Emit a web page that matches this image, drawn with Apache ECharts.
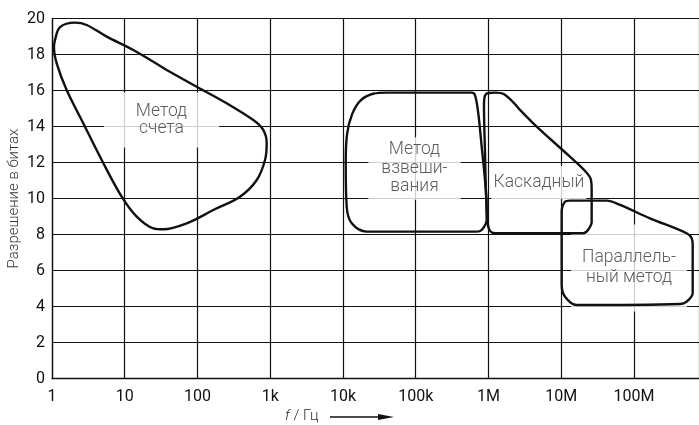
<!DOCTYPE html>
<html>
<head>
<meta charset="utf-8">
<script src="https://cdn.jsdelivr.net/npm/echarts@6/dist/echarts.min.js"></script>
<style>
html,body{margin:0;padding:0;background:#fff;}
#chart{width:699px;height:425px;}
</style>
</head>
<body>
<div id="chart"></div>
<script>
// ---- data ----
const xTickLabels = ['1', '10', '100', '1k', '10k', '100k', '1M', '10M', '100M'];
const yAxisName = 'Разрешение в битах';
const xAxisName = 'f / Гц';

// contours: [frequency in Hz, resolution in bits]
const countingMethod = [
  [37.7, 17.14], [13.1, 18.25], [5.65, 18.99], [3.0, 19.64], [2.07, 19.77], [1.29, 19.52],
  [1.10, 18.81], [1.065, 18.4], [1.16, 17.51], [1.59, 16.03], [2.69, 14.18], [4.82, 12.14],
  [9.08, 10.1], [14.6, 8.99], [24.7, 8.34], [33.9, 8.29], [71.1, 8.62], [165, 9.36],
  [384, 10.1], [652, 11.03], [848, 12.14], [894, 13.07], [802, 13.81], [585, 14.36],
  [252, 15.29], [97.5, 16.21], [37.7, 17.14]
];
const weighingMethod = [
  [150000, 15.88], [587000, 15.88], [651000, 15.75], [724000, 14.73], [806000, 12.88],
  [895000, 11.03], [944000, 9.54], [944000, 8.81], [806000, 8.25], [688000, 8.16],
  [21200, 8.16], [13200, 8.62], [11250, 9.54], [10900, 12.0], [11400, 13.6],
  [13400, 14.7], [17500, 15.45], [26000, 15.82], [40000, 15.88], [150000, 15.88]
];
const cascadeMethod = [
  [2.71e6, 14.92], [4.595e6, 13.99], [1.318e7, 12.32], [2.188e7, 11.47], [2.563e7, 11.03],
  [2.62e7, 10.47], [2.62e7, 8.69], [2.333e7, 8.25], [2.01e7, 8.07], [1.228e6, 8.07],
  [1.016e6, 8.31], [944000, 9.36], [895000, 12.6], [867000, 15.19], [895000, 15.72],
  [1.0e6, 15.86], [1.25e6, 15.88], [1.62e6, 15.8], [2.71e6, 14.92]
];
const parallelMethod = [
  [1.015e7, 7.0], [1.015e7, 9.25], [1.127e7, 9.82], [1.318e7, 9.88], [4.213e7, 9.88],
  [6.43e7, 9.64], [1.66e8, 8.9], [5.3e8, 8.07], [6.21e8, 7.79], [6.41e8, 7.42],
  [6.41e8, 4.73], [5.3e8, 4.27], [4.29e8, 4.14], [1.63e7, 4.08], [1.127e7, 4.54],
  [1.015e7, 5.19], [1.015e7, 7.0]
];

const labelTexts = ['Метод\nсчета', 'Метод\nвзвеши-\nвания', 'Каскадный', 'Параллель-\nный метод'];
const labelF = [32, 96100, 4.94e6, 8.54e7];
const labelY = [14.36, 11.67, 10.89, 6.14];

// ---- styles ----
const labelPadding = [[10, 32, 10, 32], [5, 13, 2, 13], [7, 2, 8, 2], [42, 11, 5, 11]];
const labelLineHeight = [17.5, 18.5, 18, 20];
const FONT = 'Roboto, "Liberation Sans", sans-serif';

const chart = echarts.init(document.getElementById('chart'), null, {renderer: 'canvas'});

const lineSeries = [countingMethod, weighingMethod, cascadeMethod, parallelMethod].map(d => ({
  type: 'line',
  data: d,
  smooth: 0.35,
  symbol: 'none',
  silent: true,
  z: 3,
  lineStyle: {color: '#111', width: 2.4}
}));

const labelSeries = {
  type: 'scatter',
  symbolSize: 0,
  silent: true,
  z: 2,
  data: labelTexts.map((t, i) => ({
    value: [labelF[i], labelY[i]],
    name: t,
    label: {padding: labelPadding[i], lineHeight: labelLineHeight[i]}
  })),
  label: {
    show: true,
    position: 'inside',
    formatter: p => p.name,
    fontFamily: FONT,
    fontWeight: 300,
    fontSize: 17.5,
    color: '#333',
    align: 'center',
    verticalAlign: 'middle',
    backgroundColor: '#fff'
  }
};

const option = {
  animation: false,
  backgroundColor: '#fff',
  grid: {left: 52, right: 0, top: 18.5, bottom: 46.5, containLabel: false, outerBoundsMode: 'none'},
  xAxis: {
    type: 'log',
    logBase: 10,
    min: 1,
    max: 7.83e8,
    axisLine: {show: true, lineStyle: {color: '#111', width: 1.3}},
    axisTick: {show: false},
    splitLine: {show: true, lineStyle: {color: '#111', width: 1.2}},
    axisLabel: {
      showMaxLabel: false,
      margin: 10,
      fontFamily: FONT,
      fontSize: 16,
      color: '#111',
      formatter: v => {
        const i = Math.round(Math.log10(v));
        return xTickLabels[i] !== undefined ? xTickLabels[i] : '';
      }
    }
  },
  yAxis: {
    type: 'value',
    min: 0,
    max: 20,
    interval: 2,
    name: yAxisName,
    nameLocation: 'middle',
    nameGap: 30,
    nameMoveOverlap: false,
    nameTextStyle: {fontFamily: FONT, fontWeight: 300, fontSize: 15, color: '#333'},
    axisLine: {show: true, lineStyle: {color: '#111', width: 1.3}},
    axisTick: {show: false},
    splitLine: {show: true, lineStyle: {color: '#111', width: 1.2}},
    axisLabel: {margin: 7, fontFamily: FONT, fontSize: 16, color: '#111'}
  },
  graphic: [
    {
      type: 'text', left: 285, top: 409,
      style: {
        text: '{i|f} / Гц',
        rich: {i: {fontStyle: 'italic', fontFamily: FONT, fontSize: 15, fill: '#333', fontWeight: 300}},
        fontFamily: FONT, fontWeight: 300, fontSize: 15, fill: '#333'
      }
    },
    {type: 'line', shape: {x1: 330, y1: 417, x2: 382, y2: 417}, style: {stroke: '#111', lineWidth: 1.6}},
    {type: 'polygon', shape: {points: [[378, 414], [394, 417], [378, 420]]}, style: {fill: '#111'}}
  ],
  series: [...lineSeries, labelSeries]
};
chart.setOption(option);
</script>
</body>
</html>
